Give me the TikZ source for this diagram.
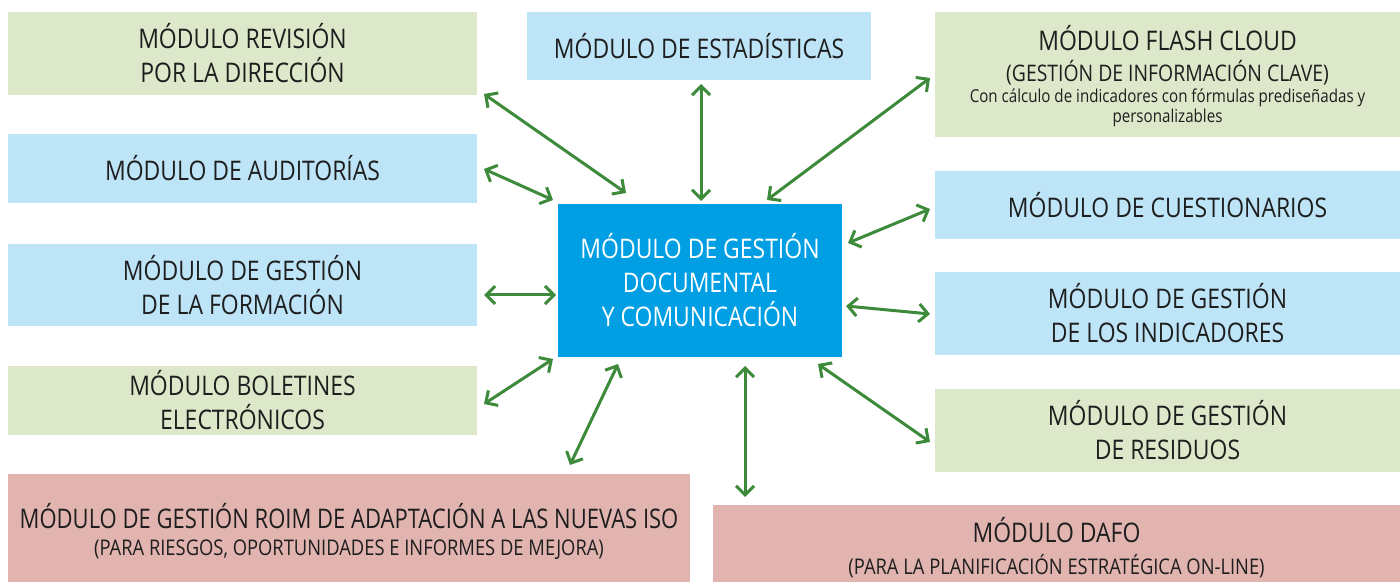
\documentclass[tikz,border=0pt]{standalone}
\usepackage{fontspec}
\setmainfont{Open Sans}[FakeStretch=0.85]
\newfontfamily\narrowfont{Open Sans}[FakeStretch=0.815]
\usetikzlibrary{arrows.meta}
\definecolor{gbox}{HTML}{DCE8C9}
\definecolor{bbox}{HTML}{BEE4F7}
\definecolor{pbox}{HTML}{E1B4B0}
\definecolor{cbox}{HTML}{009FE3}
\definecolor{arr}{HTML}{3C8A3A}
\definecolor{txt}{HTML}{1E1E1E}
\tikzset{
  modbox/.style={inner sep=0pt, align=center, text=txt, font=\fontsize{13.5}{17}\selectfont},
  greenmod/.style={modbox, fill=gbox},
  bluemod/.style={modbox, fill=bbox},
  pinkmod/.style={modbox, fill=pbox},
  subtxt/.style={modbox, font=\fontsize{10.8}{13}\selectfont},
  link/.style={draw=arr, line width=1.5pt, {Straight Barb[length=4.5pt,width=9pt,line width=1.5pt]}-{Straight Barb[length=4.5pt,width=9pt,line width=1.5pt]}},
}
\begin{document}
\begin{tikzpicture}[x=0.5pt,y=-0.5pt]
\useasboundingbox (0,0) rectangle (1400,582);
% boxes
\node[greenmod, minimum width=234.5pt, minimum height=41.5pt] (rev) at (242.5,53.5) {MÓDULO REVISIÓN\\POR LA DIRECCIÓN};
\node[bluemod, minimum width=172pt, minimum height=34pt] (est) at (699,46) {MÓDULO DE ESTADÍSTICAS};
\node[greenmod, minimum width=232.5pt, minimum height=62.5pt] (fla) at (1167.5,74.5) {};
\node[modbox] (flat) at (1167.5,38) {MÓDULO FLASH CLOUD};
\node[subtxt, font=\fontsize{11.4}{13}\selectfont] (flas) at (1167.5,73) {(GESTIÓN DE INFORMACIÓN CLAVE)};
\node[modbox, font=\fontsize{8.9}{10}\selectfont] (flad) at (1167.5,108) {Con cálculo de indicadores con fórmulas prediseñadas y\\personalizables};
\node[bluemod, minimum width=234.5pt, minimum height=34.5pt] (aud) at (242.5,168.5) {MÓDULO DE AUDITORÍAS};
\node[bluemod, minimum width=232.5pt, minimum height=34pt] (cue) at (1167.5,205) {MÓDULO DE CUESTIONARIOS};
\node[bluemod, minimum width=234.5pt, minimum height=41pt] (for) at (242.5,285) {MÓDULO DE GESTIÓN\\DE LA FORMACIÓN};
\node[bluemod, minimum width=232.5pt, minimum height=41.5pt] (ind) at (1167.5,313.5) {MÓDULO DE GESTIÓN\\DE LOS INDICADORES};
\node[modbox, fill=cbox, text=white, minimum width=142pt, minimum height=76.5pt] (cen) at (700,280.5) {MÓDULO DE GESTIÓN\\DOCUMENTAL\\Y COMUNICACIÓN};
\node[greenmod, minimum width=234.5pt, minimum height=34.5pt] (bol) at (242.5,400.5) {MÓDULO BOLETINES\\ELECTRÓNICOS};
\node[greenmod, minimum width=232.5pt, minimum height=41.5pt] (res) at (1167.5,430.5) {MÓDULO DE GESTIÓN\\DE RESIDUOS};
\node[pinkmod, minimum width=341pt, minimum height=54pt] (roi) at (349,528) {};
\node[modbox, font=\narrowfont\fontsize{13.5}{17}\selectfont] (roit) at (349,516) {MÓDULO DE GESTIÓN ROIM DE ADAPTACIÓN A LAS NUEVAS ISO};
\node[subtxt] (rois) at (349,550) {(PARA RIESGOS, OPORTUNIDADES E INFORMES DE MEJORA)};
\node[pinkmod, minimum width=343.5pt, minimum height=38.5pt] (daf) at (1056.5,543.5) {};
\node[modbox] (daft) at (1056.5,530) {MÓDULO DAFO};
\node[subtxt] (dafs) at (1056.5,566) {(PARA LA PLANIFICACIÓN ESTRATÉGICA ON-LINE)};
% arrow ends
\coordinate (a1) at (484,94);  \coordinate (b1) at (626,193);
\coordinate (a2) at (484,169); \coordinate (b2) at (553,200);
\coordinate (a3) at (484,295); \coordinate (b3) at (556,295);
\coordinate (a4) at (484,404); \coordinate (b4) at (553,359);
\coordinate (a5) at (570,465); \coordinate (b5) at (618,364);
\coordinate (a6) at (701,84);  \coordinate (b6) at (701,201);
\coordinate (a7) at (930,78);  \coordinate (b7) at (767,200);
\coordinate (a8) at (930,209); \coordinate (b8) at (848,243);
\coordinate (a9) at (930,314); \coordinate (b9) at (846,306);
\coordinate (a10) at (930,442); \coordinate (b10) at (818,364);
\coordinate (a11) at (745,497); \coordinate (b11) at (745,366);
\foreach \i in {1,...,11} \draw[link] (a\i) -- (b\i);
\end{tikzpicture}
\end{document}
